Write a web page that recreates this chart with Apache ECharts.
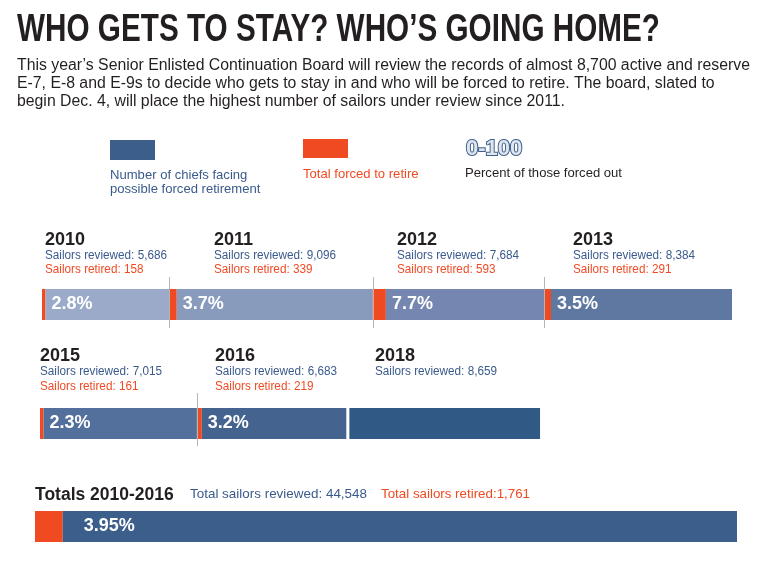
<!DOCTYPE html>
<html><head><meta charset="utf-8">
<script src="https://cdn.jsdelivr.net/npm/echarts@6/dist/echarts.min.js"></script>
<style>html,body{margin:0;padding:0;background:#fff}#c{width:768px;height:576px}</style>
</head><body><div id="c"></div>
<script>
// ---- data ----
const years1 = ['2010', '2011', '2012', '2013'];
const reviewed1 = [5686, 9096, 7684, 8384];
const retired1 = [158, 339, 593, 291];
const pct1 = ['2.8%', '3.7%', '7.7%', '3.5%'];
const years2 = ['2015', '2016', '2018'];
const reviewed2 = [7015, 6683, 8659];
const retired2 = [161, 219, null];
const pct2 = ['2.3%', '3.2%', ''];
const totalReviewed = 44548;
const totalRetired = 1761;
const totalPct = '3.95%';

const TITLE = 'WHO GETS TO STAY? WHO\u2019S GOING HOME?';
const INTRO = [
  'This year\u2019s Senior Enlisted Continuation Board will review the records of almost 8,700 active and reserve',
  'E-7, E-8 and E-9s to decide who gets to stay in and who will be forced to retire. The board, slated to',
  'begin Dec. 4, will place the highest number of sailors under review since 2011.'
];

// ---- style ----
const RED = '#f04a23';
const BLUE_TXT = '#3a5a8c';
const ORANGE_TXT = '#f04a23';
const DARK = '#231f20';
const shades1 = ['#9aaac8', '#889bbd', '#7587b0', '#5e78a2'];
const shades2 = ['#52709b', '#44638f', '#315985'];
const totalColor = '#3b5e8a';
const FAM = '"Liberation Sans", Arial, sans-serif';

const cv = document.createElement('canvas').getContext('2d');
function measure(text, font) { cv.font = font; return cv.measureText(text).width; }
function fitScale(text, font, w) { return w / measure(text, font); }

const chart = echarts.init(document.getElementById('c'), null, { renderer: 'canvas' });

const scaleMax = reviewed1.reduce((a, b) => a + b, 0);
const grids = [
  { left: 42, top: 289, width: 690, height: 31 },
  { left: 40, top: 408, width: 690, height: 31 },
  { left: 35, top: 511, width: 702, height: 31 }
];
const xAxes = [
  { gridIndex: 0, type: 'value', min: 0, max: scaleMax, show: false },
  { gridIndex: 1, type: 'value', min: 0, max: scaleMax, show: false },
  { gridIndex: 2, type: 'value', min: 0, max: totalReviewed, show: false }
];
const yAxes = [0, 1, 2].map(i => ({ gridIndex: i, type: 'category', data: ['r'], show: false }));

function pctLabel(text, dist) {
  return { show: !!text, formatter: text, position: 'insideLeft', distance: dist, color: '#fff',
           fontFamily: FAM, fontWeight: 'bold', fontSize: 18 };
}
const series = [];
function addRow(axis, reviewed, retired, pcts, shades, stack) {
  reviewed.forEach((rv, i) => {
    if (retired[i] != null) {
      series.push({ type: 'bar', xAxisIndex: axis, yAxisIndex: axis, stack, barWidth: '100%',
        data: [retired[i]], itemStyle: { color: RED }, silent: true });
    }
    series.push({ type: 'bar', xAxisIndex: axis, yAxisIndex: axis, stack, barWidth: '100%',
      data: [rv - (retired[i] || 0)], itemStyle: { color: shades[i] },
      label: pctLabel(pcts[i], 6), silent: true });
  });
}
addRow(0, reviewed1, retired1, pct1, shades1, 'row1');
addRow(1, reviewed2, retired2, pct2, shades2, 'row2');
series.push({ type: 'bar', xAxisIndex: 2, yAxisIndex: 2, stack: 'tot', barWidth: '100%',
  data: [totalRetired], itemStyle: { color: RED }, silent: true });
series.push({ type: 'bar', xAxisIndex: 2, yAxisIndex: 2, stack: 'tot', barWidth: '100%',
  data: [totalReviewed - totalRetired], itemStyle: { color: totalColor },
  label: pctLabel(totalPct, 21), silent: true });

chart.setOption({
  animation: false,
  grid: grids, xAxis: xAxes, yAxis: yAxes, series
});

// ---- text / decoration ----
const g = [];
function txt(x, y, text, font, fill, sx, styleExtra) {
  g.push({ type: 'text', x, y, scaleX: sx || 1, silent: true, z: 20,
    style: Object.assign({ text, font, fill, textVerticalAlign: 'middle', textAlign: 'left' }, styleExtra || {}) });
}
const titleFont = 'bold 38px ' + FAM;
txt(17, 31, TITLE, titleFont, DARK, fitScale(TITLE, titleFont, 643));
const introFont = '16px ' + FAM;
const introSx = fitScale(INTRO[0], introFont, 733);
INTRO.forEach((l, i) => txt(17, 66 + i * 18, l, introFont, DARK, introSx));

const smallFont = '12.5px ' + FAM;
const smallSx = fitScale('Sailors reviewed: 5,686', smallFont, 122);
const yearFont = 'bold 18px ' + FAM;
const legFont = '13.5px ' + FAM;
const legSx = fitScale('Percent of those forced out', legFont, 157);

// legend
g.push({ type: 'rect', silent: true, shape: { x: 110, y: 140, width: 45, height: 20 }, style: { fill: totalColor } });
g.push({ type: 'rect', silent: true, shape: { x: 303, y: 139, width: 45, height: 19 }, style: { fill: RED } });
txt(466, 149, '0-100', 'bold 22px ' + FAM, '#dfe5ef', 1, { stroke: '#3d5f8a', lineWidth: 2 });
txt(110, 175, 'Number of chiefs facing', legFont, BLUE_TXT, legSx);
txt(110, 189, 'possible forced retirement', legFont, BLUE_TXT, legSx);
txt(303, 174, 'Total forced to retire', legFont, ORANGE_TXT, legSx);
txt(465, 173, 'Percent of those forced out', legFont, DARK, legSx);

// row annotations
const x1 = [45, 214, 397, 573];
years1.forEach((y, i) => {
  txt(x1[i], 240, y, yearFont, DARK);
  txt(x1[i], 256, 'Sailors reviewed: ' + reviewed1[i].toLocaleString('en-US'), smallFont, BLUE_TXT, smallSx);
  txt(x1[i], 270, 'Sailors retired: ' + retired1[i].toLocaleString('en-US'), smallFont, ORANGE_TXT, smallSx);
});
const x2 = [40, 215, 375];
years2.forEach((y, i) => {
  txt(x2[i], 356, y, yearFont, DARK);
  txt(x2[i], 372, 'Sailors reviewed: ' + reviewed2[i].toLocaleString('en-US'), smallFont, BLUE_TXT, smallSx);
  if (retired2[i] != null)
    txt(x2[i], 387, 'Sailors retired: ' + retired2[i].toLocaleString('en-US'), smallFont, ORANGE_TXT, smallSx);
});
txt(35, 495, 'Totals 2010-2016', 'bold 17.5px ' + FAM, DARK);
txt(190, 494, 'Total sailors reviewed: ' + totalReviewed.toLocaleString('en-US'), '13px ' + FAM, BLUE_TXT, fitScale('Total sailors reviewed: 44,548', '13px ' + FAM, 177));
txt(381, 494, 'Total sailors retired:' + totalRetired.toLocaleString('en-US'), '13px ' + FAM, ORANGE_TXT, fitScale('Total sailors retired:1,761', '13px ' + FAM, 149));

// separator lines at segment boundaries (from axis scale)
function px(axis, value) { return chart.convertToPixel({ xAxisIndex: axis }, value); }
function vline(axis, value, y1, y2) {
  const x = Math.round(px(axis, value)) + 0.5;
  g.push({ type: 'line', silent: true, z: 10, shape: { x1: x, y1, x2: x, y2 }, style: { stroke: '#b5b5b5', lineWidth: 1 } });
}
let cum = 0;
for (let i = 0; i < reviewed1.length - 1; i++) { cum += reviewed1[i]; vline(0, cum, 277, 328); }
vline(1, reviewed2[0], 393, 446);
// white gap before the 2018 segment (no retirement data yet)
const gx = px(1, reviewed2[0] + reviewed2[1]);
g.push({ type: 'rect', silent: true, z: 10, shape: { x: gx, y: 405, width: 3, height: 37 }, style: { fill: '#fff' } });

chart.setOption({ graphic: g });
</script>
</body></html>
